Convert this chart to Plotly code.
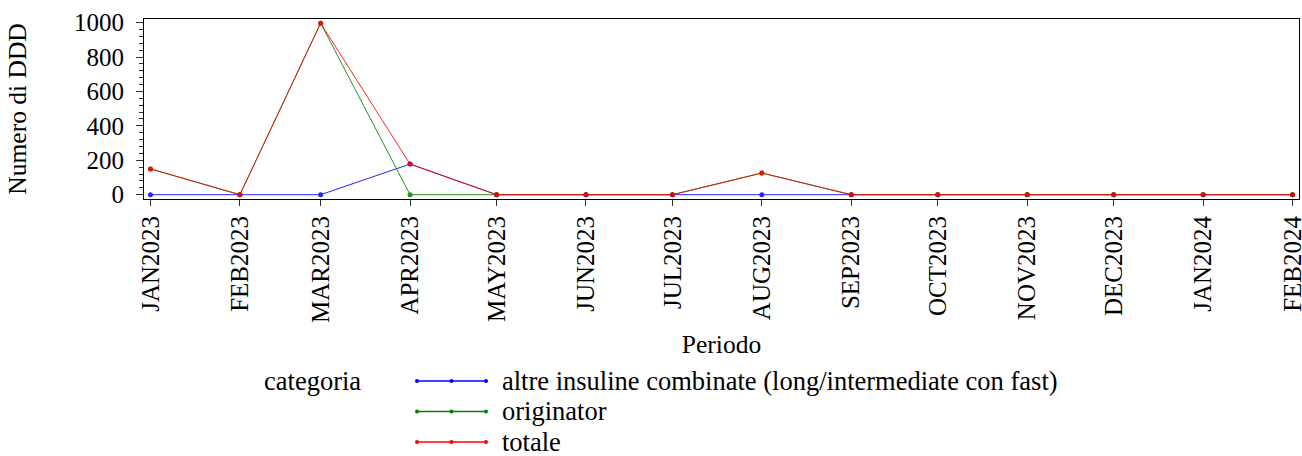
import plotly.graph_objects as go

# periodi (primo giorno del mese) e etichette
periodi = ["2023-01-01", "2023-02-01", "2023-03-01", "2023-04-01", "2023-05-01",
           "2023-06-01", "2023-07-01", "2023-08-01", "2023-09-01", "2023-10-01",
           "2023-11-01", "2023-12-01", "2024-01-01", "2024-02-01"]
etichette = ["JAN2023", "FEB2023", "MAR2023", "APR2023", "MAY2023", "JUN2023",
             "JUL2023", "AUG2023", "SEP2023", "OCT2023", "NOV2023", "DEC2023",
             "JAN2024", "FEB2024"]

altre_combinate = [0, 0, 0, 178, 0, 0, 0, 0, 0, 0, 0, 0, 0, 0]
originator = [150, 0, 997, 0, 0, 0, 0, 126, 0, 0, 0, 0, 0, 0]
totale = [150, 0, 997, 178, 0, 0, 0, 126, 0, 0, 0, 0, 0, 0]

serie = [
    ("altre insuline combinate (long/intermediate con fast)", altre_combinate, "#0000ff"),
    ("originator", originator, "#008000"),
    ("totale", totale, "#ff0000"),
]

FONT = "Liberation Serif, Times New Roman, serif"

W, H = 1302, 456
L, R, T, B = 144, 3, 19, 257
PW, PH = W - L - R, H - T - B


def px_x(x):  # pixel -> coordinate paper
    return (x - L) / PW


def px_y(y):
    return (H - B - y) / PH


fig = go.Figure()
for nome, valori, colore in serie:
    fig.add_trace(go.Scatter(
        x=periodi, y=valori, name=nome, mode="lines+markers",
        line=dict(color=colore, width=1),
        marker=dict(color=colore, size=5),
        opacity=0.85, showlegend=False,
    ))

# legenda in stile SAS: titolo a sinistra, linee lunghe con tre marcatori
shapes, annotations = [], []
annotations.append(dict(text="categoria", x=px_x(262), y=px_y(381), xref="paper", yref="paper",
                        xanchor="left", yanchor="middle", showarrow=False,
                        font=dict(size=26.5)))
for i, (nome, _, colore) in enumerate(serie):
    yc = 381 + 30.5 * i
    shapes.append(dict(type="line", xref="paper", yref="paper", xsizemode="pixel",
                       xanchor=px_x(417), x0=0, x1=69, y0=px_y(yc), y1=px_y(yc),
                       line=dict(color=colore, width=1.5)))
    for dx in (0, 34.5, 69):
        shapes.append(dict(type="circle", xref="paper", yref="paper",
                           xsizemode="pixel", ysizemode="pixel",
                           xanchor=px_x(417 + dx), yanchor=px_y(yc),
                           x0=-2, x1=2, y0=-2, y1=2,
                           fillcolor=colore, line=dict(width=0)))
    annotations.append(dict(text=nome, x=px_x(500), y=px_y(yc), xref="paper", yref="paper",
                            xanchor="left", yanchor="middle", showarrow=False,
                            font=dict(size=26.5)))

fig.update_layout(
    width=W, height=H,
    margin=dict(l=L, r=R, t=T, b=B, autoexpand=False),
    paper_bgcolor="white", plot_bgcolor="white",
    font=dict(family=FONT, color="black", size=25),
    showlegend=False,
    shapes=shapes, annotations=annotations,
    xaxis=dict(
        type="date", range=["2022-12-29 18:00", "2024-02-03 06:00"],
        tickvals=periodi, ticktext=etichette, tickangle=-90,
        ticks="outside", ticklen=6, tickcolor="#333", tickfont=dict(size=25),
        ticklabeloverflow="allow",
        showline=True, linecolor="black", mirror=True, showgrid=False,
        title=dict(text="Periodo", font=dict(size=25.5), standoff=13),
        zeroline=False, automargin=False,
    ),
    yaxis=dict(
        range=[-25, 1021], tickvals=[0, 200, 400, 600, 800, 1000],
        ticks="outside", ticklen=7, tickcolor="#333", tickfont=dict(size=25),
        ticklabelstandoff=7,
        minor=dict(ticks="outside", ticklen=4, dtick=40, tickcolor="#333", showgrid=False),
        showline=True, linecolor="black", mirror=True, showgrid=False,
        zeroline=False, automargin=False,
        title=dict(text="Numero di DDD", font=dict(size=25.5), standoff=40),
    ),
)

# niente margine della pagina, il grafico riempie la finestra
fig.write_html("out.html", config={"displayModeBar": False},
               post_script="document.body.style.margin='0';document.body.style.overflow='hidden';")
